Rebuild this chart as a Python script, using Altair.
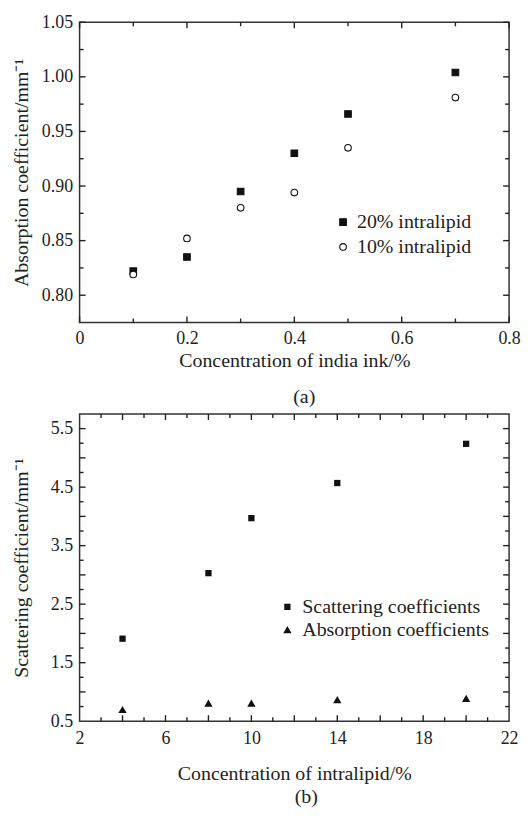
import altair as alt
import pandas as pd

# ---------------- data ----------------
ink_conc = [0.1, 0.2, 0.3, 0.4, 0.5, 0.7]
mua_20 = [0.822, 0.835, 0.895, 0.930, 0.966, 1.004]
mua_10 = [0.819, 0.852, 0.880, 0.894, 0.935, 0.981]
series_a = ["20% intralipid", "10% intralipid"]

lipid_conc = [4, 8, 10, 14, 20]
mus = [1.91, 3.03, 3.97, 4.57, 5.24]
mua = [0.70, 0.81, 0.81, 0.87, 0.89]
series_b = ["Scattering coefficients", "Absorption coefficients"]

xa_major = [0, 0.2, 0.4, 0.6, 0.8]
xa_minor = [0.1, 0.3, 0.5, 0.7]
ya_major = [0.80, 0.85, 0.90, 0.95, 1.00, 1.05]
ya_minor = [0.825, 0.875, 0.925, 0.975, 1.025]

xb_labels = [2, 6, 10, 14, 18, 22]
xb_major = [4, 6, 8, 10, 12, 14, 16, 18, 20]
xb_minor = [3, 5, 7, 9, 11, 13, 15, 17, 19, 21]
yb_labels = [0.5, 1.5, 2.5, 3.5, 4.5, 5.5]
yb_major = [1.0, 1.5, 2.0, 2.5, 3.0, 3.5, 4.0, 4.5, 5.0, 5.5]
yb_minor = [0.75, 1.25, 1.75, 2.25, 2.75, 3.25, 3.75, 4.25, 4.75, 5.25]

FONT = "Liberation Serif"
INK = "#111111"
TXT = "#222222"
TICK = "#222222"

df_a = pd.DataFrame({
    "x": ink_conc * 2,
    "y": mua_20 + mua_10,
    "series": [series_a[0]] * len(ink_conc) + [series_a[1]] * len(ink_conc),
})
df_b = pd.DataFrame({
    "x": lipid_conc * 2,
    "y": mus + mua,
    "series": [series_b[0]] * len(lipid_conc) + [series_b[1]] * len(lipid_conc),
})


def tick_layers(xs, ys, xmaj, xmin, ymaj, ymin, W, H, big=5, small=3):
    layers = []
    for vals, ln in ((xmaj, big), (xmin, small)):
        d = pd.DataFrame({"v": vals})
        layers.append(alt.Chart(d).mark_rule(color=TICK, strokeWidth=1.4).encode(
            x=alt.X("v:Q", scale=xs), y=alt.value(H), y2=alt.value(H - ln)))
        layers.append(alt.Chart(d).mark_rule(color=TICK, strokeWidth=1.4).encode(
            x=alt.X("v:Q", scale=xs), y=alt.value(0), y2=alt.value(ln)))
    for vals, ln in ((ymaj, big), (ymin, small)):
        d = pd.DataFrame({"v": vals})
        layers.append(alt.Chart(d).mark_rule(color=TICK, strokeWidth=1.4).encode(
            y=alt.Y("v:Q", scale=ys), x=alt.value(0), x2=alt.value(ln)))
        layers.append(alt.Chart(d).mark_rule(color=TICK, strokeWidth=1.4).encode(
            y=alt.Y("v:Q", scale=ys), x=alt.value(W), x2=alt.value(W - ln)))
    return layers


def legend(x, y, size, offset, rowpad):
    return alt.Legend(title=None, orient="none", legendX=x, legendY=y,
                      labelFontSize=20, labelFont=FONT, labelColor=TXT, labelLimit=0,
                      symbolSize=size, symbolStrokeColor=INK, symbolStrokeWidth=1.1,
                      labelOffset=offset, rowPadding=rowpad, padding=0)


# ---------------- panel (a) ----------------
WA, HA = 432, 302
xs_a = alt.Scale(domain=[0, 0.8], nice=False, zero=False)
ys_a = alt.Scale(domain=[0.775, 1.05], nice=False, zero=False)
leg_a = legend(255, 191, 44, 4, 5)

pts_a = alt.Chart(df_a).mark_point(size=44, strokeWidth=1.1, opacity=1).encode(
    x=alt.X("x:Q", scale=xs_a, axis=alt.Axis(
        title="Concentration of india ink/%", values=xa_major, format="~g",
        ticks=False, tickSize=0, domain=False, grid=False, labelFlush=False,
        labelPadding=7, titlePadding=3)),
    y=alt.Y("y:Q", scale=ys_a, axis=alt.Axis(
        title="Absorption coefficient/mm⁻¹", values=ya_major, format=".2f",
        ticks=False, tickSize=0, domain=False, grid=False, labelFlush=False,
        labelPadding=7, titlePadding=10)),
    shape=alt.Shape("series:N", scale=alt.Scale(domain=series_a, range=["square", "circle"]),
                    legend=leg_a),
    fill=alt.Fill("series:N", scale=alt.Scale(domain=series_a, range=[INK, "white"]),
                  legend=leg_a),
    stroke=alt.Stroke("series:N", scale=alt.Scale(domain=series_a, range=[INK, INK]),
                      legend=leg_a),
)

chart_a = alt.layer(pts_a, *tick_layers(xs_a, ys_a, xa_major, xa_minor, ya_major, ya_minor, WA, HA, 6, 4)).properties(
    width=WA, height=HA,
    title=alt.TitleParams("(a)", orient="bottom", anchor="middle", frame="group", dx=10,
                          fontSize=20, font=FONT, fontWeight="normal", color=TXT, offset=17),
)

# ---------------- panel (b) ----------------
WB, HB = 432, 309
xs_b = alt.Scale(domain=[2, 22], nice=False, zero=False)
ys_b = alt.Scale(domain=[0.5, 5.75], nice=False, zero=False)
leg_b = legend(199, 184, 60, 5, 3)

pts_b = alt.Chart(df_b).mark_point(filled=True, color=INK, opacity=1).encode(
    x=alt.X("x:Q", scale=xs_b, axis=alt.Axis(
        title="Concentration of intralipid/%", values=xb_labels, format="d",
        ticks=False, tickSize=0, domain=False, grid=False, labelFlush=False,
        labelPadding=8, titlePadding=17)),
    y=alt.Y("y:Q", scale=ys_b, axis=alt.Axis(
        title="Scattering coefficient/mm⁻¹", values=yb_labels, format=".1f",
        ticks=False, tickSize=0, domain=False, grid=False, labelFlush=False,
        labelPadding=7, titlePadding=19)),
    shape=alt.Shape("series:N", scale=alt.Scale(domain=series_b, range=["square", "triangle-up"]),
                    legend=leg_b),
    size=alt.Size("series:N", scale=alt.Scale(domain=series_b, range=[40, 70]),
                  legend=leg_b),
)

chart_b = alt.layer(pts_b, *tick_layers(xs_b, ys_b, xb_major, xb_minor, yb_major, yb_minor, WB, HB, 6, 4)).properties(
    width=WB, height=HB,
    title=alt.TitleParams("(b)", orient="bottom", anchor="middle", frame="group", dx=12,
                          fontSize=20, font=FONT, fontWeight="normal", color=TXT, offset=3),
)

chart = alt.vconcat(chart_a, chart_b, spacing=4).properties(
    padding={"left": 2, "top": 2, "right": 2, "bottom": 2}
).configure_view(
    stroke="#333333", strokeWidth=1.5
).configure_axis(
    labelFont=FONT, titleFont=FONT, labelFontSize=18, titleFontSize=20,
    labelColor=TXT, titleColor=TXT, titleFontWeight="normal",
).resolve_scale(shape="independent", fill="independent", stroke="independent", size="independent")

chart.save("out.html", embed_options={"renderer": "svg", "actions": False})
